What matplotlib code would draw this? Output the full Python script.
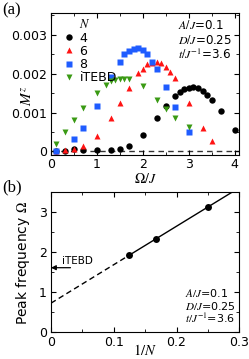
import numpy as np
import matplotlib
matplotlib.use("Agg")
import matplotlib.pyplot as plt
from matplotlib.ticker import MultipleLocator

plt.rcParams['font.family'] = ['DejaVu Sans']
plt.rcParams['mathtext.fontset'] = 'stix'

# ---- panel (a) data ----
omega4 = [0.1, 0.3, 0.5, 0.7, 1.0, 1.3, 1.5, 1.7, 2.0, 2.3, 2.5, 2.7, 2.8, 2.9, 3.0, 3.1, 3.2, 3.3, 3.4, 3.5, 3.7, 4.0]
mz4 = [0.00001, 0.00002, 0.00006, 0.00005, 0.00004, 0.00003, 0.00006, 0.00015, 0.00043, 0.00086, 0.00116, 0.00143,
       0.00154, 0.0016, 0.00164, 0.00165, 0.00163, 0.00156, 0.00145, 0.00133, 0.00103, 0.00056]

omega6 = [0.1, 0.3, 0.5, 0.7, 1.0, 1.3, 1.5, 1.7, 1.9, 2.0, 2.1, 2.2, 2.3, 2.4, 2.5, 2.6, 2.7, 3.0, 3.3, 3.5]
mz6 = [0.00001, 0.00003, 0.00007, 0.00015, 0.0004, 0.00086, 0.00124, 0.00164, 0.00201, 0.00211, 0.00224, 0.00228,
       0.00229, 0.00228, 0.00218, 0.00205, 0.00189, 0.00124, 0.0006, 0.00027]

omega8 = [0.1, 0.5, 0.7, 1.0, 1.3, 1.5, 1.6, 1.7, 1.8, 1.9, 2.0, 2.1, 2.2, 2.3, 2.5, 2.7, 3.0]
mz8 = [0.00002, 0.00033, 0.0006, 0.00118, 0.00191, 0.00229, 0.0025, 0.00259, 0.00264, 0.00265, 0.00262, 0.0025,
       0.00231, 0.00213, 0.00166, 0.00114, 0.00051]

omega_it = [0.1, 0.3, 0.5, 0.7, 1.0, 1.2, 1.3, 1.4, 1.5, 1.6, 1.7, 2.0, 2.3, 2.5, 2.7, 3.0]
mz_it = [0.00018, 0.00051, 0.00081, 0.00111, 0.00151, 0.00172, 0.0018, 0.00184, 0.00186, 0.00186, 0.00186,
         0.00167, 0.00133, 0.00108, 0.00086, 0.00063]

series_labels = ['4', '6', '8', 'iTEBD']

# ---- panel (b) data ----
invN = [1 / 8, 1 / 6, 1 / 4]
peak = [1.92, 2.31, 3.12]
itebd_peak = 1.6

annot_lines = [r'$A/J$=0.1', r'$D/J$=0.25', r'$t/J^{-1}$=3.6']

fig = plt.figure(figsize=(2.49, 3.59), dpi=100)
W, H = 249, 359

def ax_rect(l, t, r, b):
    return [l / W, 1 - b / H, (r - l) / W, (b - t) / H]

axa = fig.add_axes(ax_rect(51, 13.3, 239.3, 155))
axb = fig.add_axes(ax_rect(51, 191.7, 239.3, 331.7))

red = '#ff1414'
blue = '#1f5cff'
green = '#3a9a14'

axa.axhline(0, color='#333333', ls=(0, (4, 3)), lw=1.0, zorder=1)
axa.plot(omega4, mz4, 'o', color='black', ms=4.6, mec='none', label=series_labels[0], zorder=3)
axa.plot(omega6, mz6, '^', color=red, ms=5.0, mec='none', label=series_labels[1], zorder=3)
axa.plot(omega8, mz8, 's', color=blue, ms=4.4, mec='none', label=series_labels[2], zorder=3)
axa.plot(omega_it, mz_it, 'v', color=green, ms=5.0, mec='none', label=series_labels[3], zorder=3)

axa.set_xlim(0, 4.1)
axa.set_ylim(-0.00009, 0.00355)
axa.set_xticks([0, 1, 2, 3, 4])
axa.set_yticks([0, 0.001, 0.002, 0.003])
axa.set_yticklabels(['0', '0.001', '0.002', '0.003'])
axa.xaxis.set_minor_locator(MultipleLocator(0.5))
axa.yaxis.set_minor_locator(MultipleLocator(0.0005))
axa.set_xlabel(r'$\Omega/J$', fontsize=10, va='top')
axa.set_ylabel(r'$M^z$', fontsize=11)
axa.xaxis.set_label_coords(0.5, -0.118)
axa.yaxis.set_label_coords(-0.085, 0.42)

leg = axa.legend(title=r'    $N$', loc='upper left', bbox_to_anchor=(0.045, 1.0), frameon=False,
                 fontsize=9, title_fontsize=9, handlelength=0.8, handletextpad=0.4,
                 labelspacing=0.02, borderpad=0.25, borderaxespad=0.15, markerscale=1.0)
leg._legend_box.align = 'left'

ya = [0.917, 0.806, 0.705]
for s, y in zip(annot_lines, ya):
    axa.text(0.672, y, s, transform=axa.transAxes, fontsize=8.6, va='center', ha='left')

# ---- panel (b) ----
coef = np.polyfit(invN, peak, 1)
x_dash = np.array([0.0, invN[0]])
x_solid = np.array([invN[0], 0.3])
axb.plot(x_dash, np.polyval(coef, x_dash), color='black', lw=1.0, ls=(0, (4, 2.5)))
axb.plot(x_solid, np.polyval(coef, x_solid), color='black', lw=1.0)
axb.plot(invN, peak, 'o', color='black', ms=5, mec='none')

axb.annotate('', xy=(0.0, itebd_peak), xytext=(0.031, itebd_peak),
             arrowprops=dict(arrowstyle='-|>', color='black', lw=0.9, mutation_scale=7,
                             shrinkA=0, shrinkB=0))
axb.text(0.017, 1.77, 'iTEBD', fontsize=7.5, va='center', ha='left')

axb.set_xlim(0, 0.3)
axb.set_ylim(0, 3.5)
axb.set_xticks([0, 0.1, 0.2, 0.3])
axb.set_xticklabels(['0', '0.1', '0.2', '0.3'])
axb.set_yticks([0, 1, 2, 3])
axb.xaxis.set_minor_locator(MultipleLocator(0.05))
axb.yaxis.set_minor_locator(MultipleLocator(0.5))
axb.set_xlabel(r'$1/N$', fontsize=10.5, va='center')
axb.set_ylabel(r'Peak frequency $\Omega$', fontsize=10)
axb.xaxis.set_label_coords(0.5, -0.135)
axb.yaxis.set_label_coords(-0.1, 0.49)

yb = [0.275, 0.183, 0.095]
for s, y in zip(annot_lines, yb):
    axb.text(0.71, y, s, transform=axb.transAxes, fontsize=8, va='center', ha='left')

for ax in (axa, axb):
    ax.tick_params(which='both', direction='in', top=True, right=True, labelsize=9, pad=3)
    ax.tick_params(which='major', length=3.5, width=0.8)
    ax.tick_params(which='minor', length=2, width=0.6)
axa.tick_params(axis='x', which='both', pad=2)

fig.text(2 / W, 1 - 10 / H, '(a)', fontsize=12, family='Liberation Serif', va='center', ha='left')
fig.text(2 / W, 1 - 187 / H, '(b)', fontsize=12, family='Liberation Serif', va='center', ha='left')

fig.savefig('out.png', dpi=100)
